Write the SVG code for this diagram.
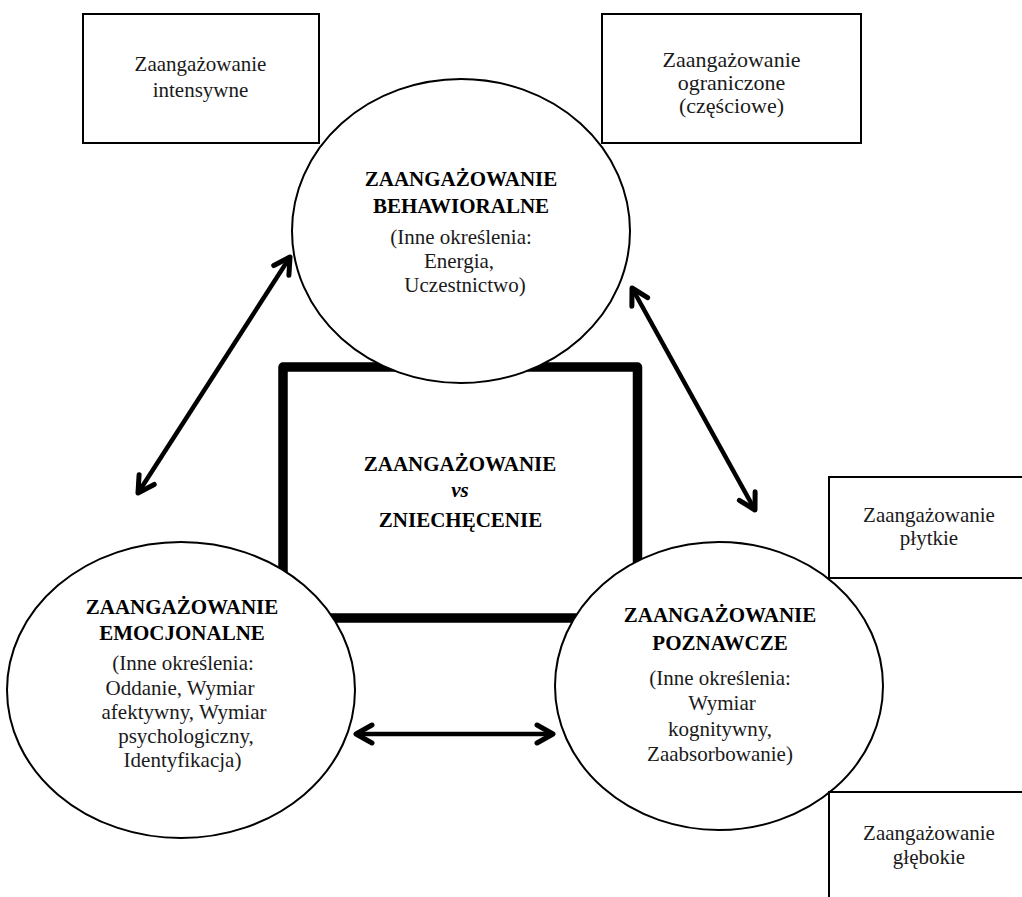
<svg xmlns="http://www.w3.org/2000/svg" width="1022" height="897" viewBox="0 0 1022 897">
<style>
  .bg { fill: #ffffff; }
  .box { fill: #ffffff; stroke: #000000; stroke-width: 2; }
  .ell { fill: #ffffff; stroke: #000000; stroke-width: 2; }
  .core { fill: #ffffff; stroke: #000000; stroke-width: 9.5; stroke-linejoin: round; }
  .t { font-family: "Liberation Serif", serif; font-size: 21px; fill: #1a1a1a; text-anchor: middle; }
  .b { font-family: "Liberation Serif", serif; font-size: 21px; font-weight: bold; fill: #000000; text-anchor: middle; }
  .bi { font-style: italic; }
  .big { font-size: 22px; }
  .conn { stroke: #000000; stroke-width: 4.5; fill: none; marker-start: url(#ah); marker-end: url(#ah); }
</style>
<defs>
  <marker id="ah" viewBox="-20 -12 24 24" refX="0" refY="0" markerWidth="24" markerHeight="24" markerUnits="userSpaceOnUse" orient="auto-start-reverse">
    <path d="M-16,-9 L0,0 L-16,9" fill="none" stroke="#000000" stroke-width="5" stroke-linecap="round" stroke-linejoin="round"/>
  </marker>
</defs>
<rect class="bg" x="0" y="0" width="1022" height="897"/>

<g id="node-core">
  <rect class="core" x="283" y="367" width="354.5" height="251"/>
  <text class="b" x="460" y="471">ZAANGAŻOWANIE</text>
  <text class="b bi" x="460" y="497">vs</text>
  <text class="b" x="460.5" y="527">ZNIECHĘCENIE</text>
</g>

<g id="node-intensywne">
  <rect class="box" x="83" y="14" width="236" height="129"/>
  <text class="t" x="200.5" y="71">Zaangażowanie</text>
  <text class="t" x="200.5" y="97">intensywne</text>
</g>

<g id="node-ograniczone">
  <rect class="box" x="602" y="14" width="259" height="129"/>
  <text class="t big" x="731.5" y="67">Zaangażowanie</text>
  <text class="t big" x="731.5" y="90">ograniczone</text>
  <text class="t big" x="731.5" y="113">(częściowe)</text>
</g>

<g id="node-behawioralne">
  <ellipse class="ell" cx="461" cy="231" rx="169" ry="152"/>
  <text class="b" x="461" y="186">ZAANGAŻOWANIE</text>
  <text class="b" x="461" y="213">BEHAWIORALNE</text>
  <text class="t" x="461" y="244">(Inne określenia:</text>
  <text class="t" x="459" y="268">Energia,</text>
  <text class="t" x="465" y="292">Uczestnictwo)</text>
</g>

<g id="node-emocjonalne">
  <ellipse class="ell" cx="181" cy="690" rx="174" ry="148"/>
  <text class="b" x="182" y="614">ZAANGAŻOWANIE</text>
  <text class="b" x="182" y="640">EMOCJONALNE</text>
  <text class="t" x="183" y="670">(Inne określenia:</text>
  <text class="t" x="180" y="694.5">Oddanie, Wymiar</text>
  <text class="t" x="184" y="718.5">afektywny, Wymiar</text>
  <text class="t" x="186" y="742.5">psychologiczny,</text>
  <text class="t" x="182.5" y="766.5">Identyfikacja)</text>
</g>

<g id="node-poznawcze">
  <ellipse class="ell" cx="719" cy="686" rx="164" ry="144"/>
  <text class="b" x="720" y="622">ZAANGAŻOWANIE</text>
  <text class="b" x="720" y="650">POZNAWCZE</text>
  <text class="t" x="720" y="685">(Inne określenia:</text>
  <text class="t" x="722" y="710">Wymiar</text>
  <text class="t" x="720" y="736">kognitywny,</text>
  <text class="t" x="720" y="761">Zaabsorbowanie)</text>
</g>

<g id="node-plytkie">
  <rect class="box" x="829" y="477" width="220" height="101"/>
  <text class="t" x="929" y="522">Zaangażowanie</text>
  <text class="t" x="929" y="545">płytkie</text>
</g>

<g id="node-glebokie">
  <rect class="box" x="829" y="792" width="220" height="130"/>
  <text class="t" x="929" y="840">Zaangażowanie</text>
  <text class="t" x="929" y="864">głębokie</text>
</g>

<g id="connectors">
  <line class="conn" x1="138" y1="493" x2="290" y2="257"/>
  <line class="conn" x1="632" y1="288" x2="755" y2="510"/>
  <line class="conn" x1="356" y1="734" x2="553" y2="734"/>
</g>
</svg>
